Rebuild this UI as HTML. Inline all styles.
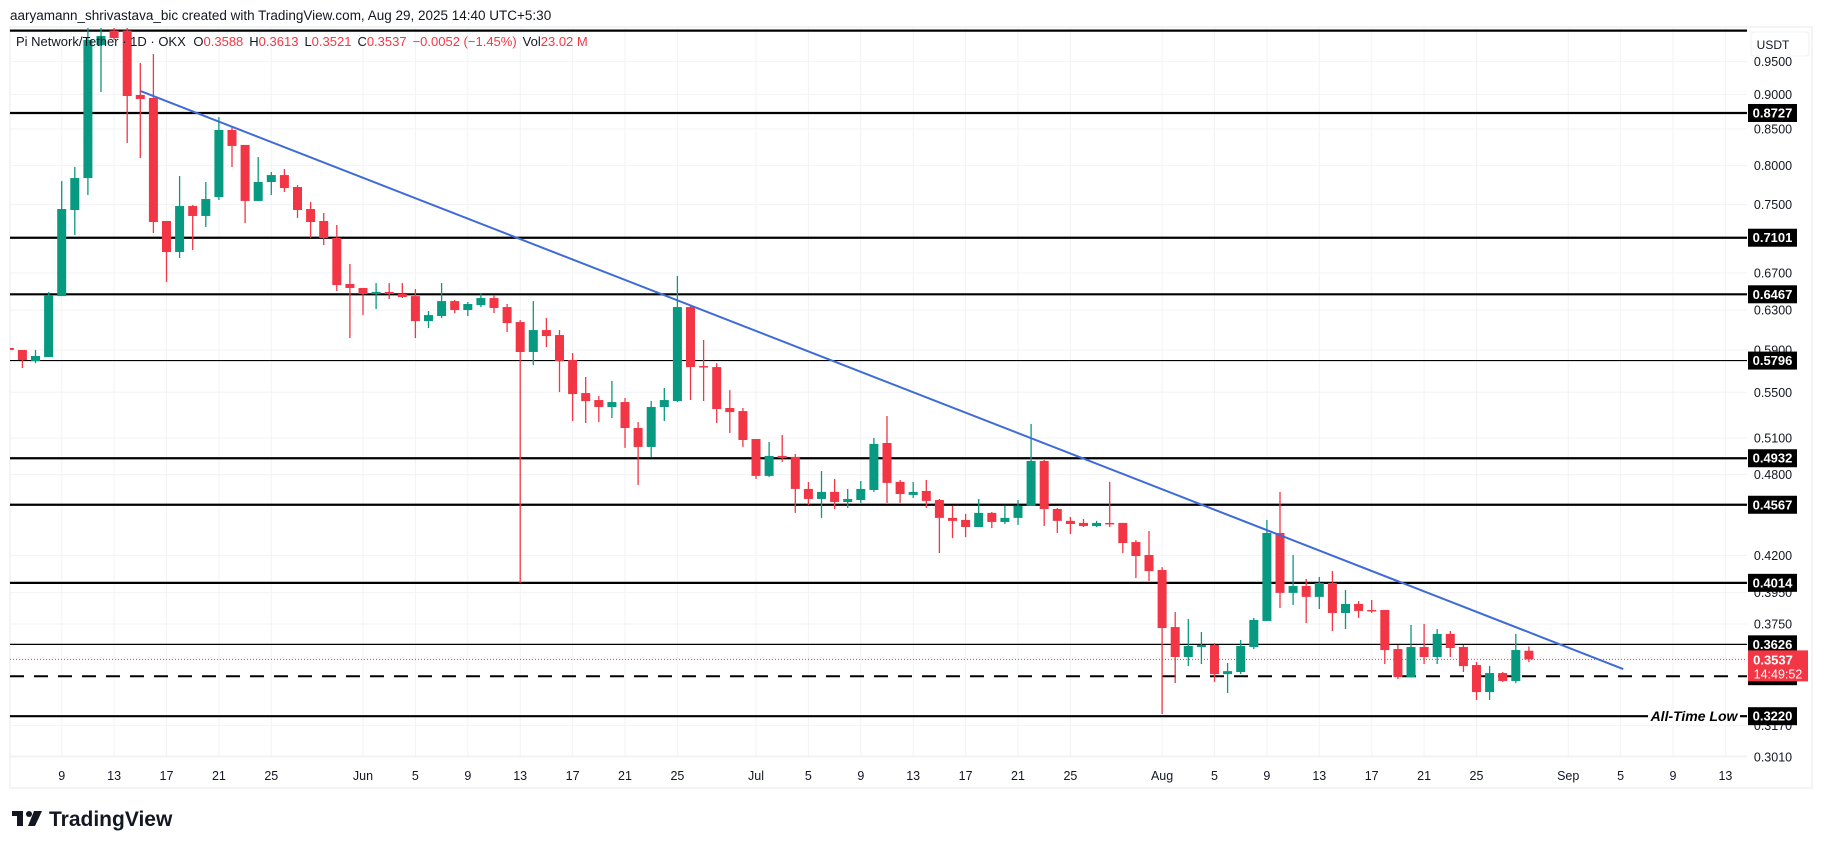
<!DOCTYPE html>
<html><head><meta charset="utf-8"><style>
html,body{margin:0;padding:0;background:#fff;}
svg{display:block;font-family:"Liberation Sans",sans-serif;}
</style></head><body>
<svg id="chart" width="1825" height="849" viewBox="0 0 1825 849" xmlns="http://www.w3.org/2000/svg">
<rect x="0" y="0" width="1825" height="849" fill="#fff"/>
<text x="10" y="20" font-size="13.5" fill="#131722">aaryamann_shrivastava_bic created with TradingView.com, Aug 29, 2025 14:40 UTC+5:30</text>
<rect x="10" y="27" width="1802" height="761" fill="none" stroke="#eef0f3" stroke-width="1.5"/>
<line x1="10" y1="756" x2="1747" y2="756" stroke="#eef0f3"/>
<defs><clipPath id="pane"><rect x="10" y="28" width="1737" height="728"/></clipPath></defs>
<g id="grid"></g>
<g id="levels" clip-path="url(#pane)"></g>
<g id="candles" clip-path="url(#pane)"></g>
<g id="trend" clip-path="url(#pane)"></g>
<g id="axis"></g>
<g id="legend-group">
<text x="16" y="46" font-size="13" fill="#131722">Pi Network/Tether · 1D · OKX <tspan dx="4">O</tspan><tspan fill="#f23645">0.3588</tspan><tspan dx="6">H</tspan><tspan fill="#f23645">0.3613</tspan><tspan dx="6">L</tspan><tspan fill="#f23645">0.3521</tspan><tspan dx="6">C</tspan><tspan fill="#f23645">0.3537</tspan><tspan dx="6" fill="#f23645">−0.0052 (−1.45%)</tspan><tspan dx="6">Vol</tspan><tspan fill="#f23645">23.02 M</tspan></text>
</g>
<g>
<rect x="12" y="811" width="11" height="5" fill="#131722"/>
<rect x="17" y="811" width="6" height="15" fill="#131722"/>
<circle cx="29" cy="814" r="3" fill="#131722"/>
<polygon points="34,811 42,811 35,826 28,826" fill="#131722"/>
<text x="49" y="826" font-size="21" font-weight="bold" fill="#131722">TradingView</text>
</g>
</svg>
<script>
const NS = "http://www.w3.org/2000/svg";
const startDay = -27; // May 5 relative to Jun 1
const opens = [0.5918,0.5898,0.5791,0.5830,0.6448,0.7434,0.7837,0.9765,1.000,1.000,0.8990,0.8946,0.7300,0.6935,0.7483,0.7361,0.7595,0.8485,0.8278,0.7546,0.7786,0.7876,0.7722,0.7446,0.7300,0.7098,0.6578,
0.6535,0.6470,0.6492,0.6470,0.6448,0.6187,0.6239,0.6395,0.6301,0.6353,0.6427,0.6332,0.6177,0.5879,0.6096,0.6046,0.5801,0.5493,0.5430,0.5368,0.5412,0.5185,0.5025,0.5368,0.5421,0.6332,0.5744,0.5734,0.5359,0.5332,
0.5091,0.4790,0.4951,0.4943,0.4688,0.4611,0.4665,0.4588,0.4603,0.4680,0.5058,0.4743,0.4642,0.4672,0.4603,0.4469,0.4454,0.4402,0.4506,0.4439,0.4469,0.4558,0.4910,0.4535,0.4447,0.4432,0.4409,0.4432,0.4432,0.4294,0.4203,
0.4100,0.3731,0.3551,0.3610,0.3622,0.3452,0.3464,0.3610,0.3769,0.4359,0.3948,0.3993,0.3922,0.4013,0.3819,0.3876,0.3838,0.3838,0.3598,0.3435,0.3610,0.3551,0.3689,0.3610,0.3504,0.3351,0.3458,0.3413,0.3588];
const highs = [0.5927,0.5898,0.5898,0.6492,0.7798,0.7982,1.009,1.009,1.009,1.009,0.9479,0.9621,0.7300,0.7863,0.7495,0.7786,0.8669,0.8527,0.8278,0.8114,0.7916,0.7955,0.7747,0.7533,0.7397,0.7252,0.6799,
0.6535,0.6588,0.6588,0.6588,0.6524,0.6291,0.6588,0.6406,0.6385,0.6481,0.6459,0.6364,0.6197,0.6395,0.6218,0.6096,0.5869,0.5641,0.5466,0.5604,0.5448,0.5236,0.5421,0.5539,0.6665,0.6343,0.5996,0.5772,0.5520,0.5359,
0.5091,0.5066,0.5125,0.4967,0.4742,0.4829,0.4766,0.4688,0.4750,0.5100,0.5289,0.4758,0.4742,0.4758,0.4611,0.4558,0.4499,0.4611,0.4513,0.4558,0.4603,0.5219,0.4918,0.4543,0.4476,0.4461,0.4447,0.4743,0.4432,0.4308,0.4373,
0.4120,0.3825,0.3781,0.3701,0.3634,0.3516,0.3652,0.3788,0.4454,0.4665,0.4203,0.4040,0.4053,0.4093,0.3967,0.3895,0.3902,0.3838,0.3622,0.3744,0.3750,0.3719,0.3707,0.3622,0.3522,0.3498,0.3464,0.3689,0.3613];
const lows = [0.5898,0.5725,0.5772,0.5830,0.6448,0.7133,0.7621,0.9035,0.9846,0.8305,0.8101,0.7157,0.6599,0.6867,0.6958,0.7228,0.7558,0.7982,0.7276,0.7546,0.7621,0.7659,0.7336,0.7098,0.7016,0.6502,0.6016,
0.6249,0.6311,0.6417,0.6427,0.6016,0.6116,0.6218,0.6270,0.6239,0.6332,0.6270,0.6076,0.4013,0.5753,0.5927,0.5502,0.5245,0.5228,0.5236,0.5271,0.5017,0.4719,0.4943,0.5245,0.5412,0.5430,0.5421,0.5228,0.5142,0.5025,
0.4766,0.4782,0.4902,0.4506,0.4565,0.4469,0.4535,0.4543,0.4581,0.4665,0.4581,0.4581,0.4619,0.4543,0.4217,0.4322,0.4329,0.4402,0.4394,0.4424,0.4417,0.4558,0.4409,0.4359,0.4351,0.4402,0.4402,0.4402,0.4217,0.4046,0.4026,
0.3232,0.3401,0.3498,0.3510,0.3407,0.3346,0.3452,0.3598,0.3769,0.3851,0.3870,0.3756,0.3844,0.3707,0.3719,0.3788,0.3819,0.3510,0.3424,0.3435,0.3510,0.3510,0.3551,0.3464,0.3307,0.3307,0.3407,0.3401,0.3521];
const closes = [0.5898,0.5801,0.5840,0.6459,0.7446,0.7837,0.9846,0.9911,0.9878,0.8975,0.8931,0.7288,0.6935,0.7483,0.7361,0.7570,0.8485,0.8264,0.7546,0.7786,0.7876,0.7709,0.7434,0.7288,0.7098,0.6567,0.6535,
0.6470,0.6492,0.6470,0.6438,0.6187,0.6249,0.6395,0.6301,0.6364,0.6427,0.6322,0.6167,0.5879,0.6096,0.6036,0.5791,0.5484,0.5421,0.5368,0.5412,0.5185,0.5025,0.5368,0.5430,0.6332,0.5734,0.5734,0.5350,0.5323,0.5083,
0.4790,0.4951,0.4934,0.4688,0.4611,0.4665,0.4588,0.4611,0.4688,0.5050,0.4735,0.4649,0.4665,0.4596,0.4469,0.4447,0.4402,0.4506,0.4439,0.4469,0.4558,0.4910,0.4535,0.4447,0.4424,0.4409,0.4432,0.4424,0.4287,0.4196,0.4093,
0.3725,0.3551,0.3616,0.3622,0.3452,0.3469,0.3616,0.3775,0.4359,0.3948,0.3993,0.3922,0.4013,0.3819,0.3876,0.3832,0.3832,0.3592,0.3435,0.3610,0.3551,0.3689,0.3604,0.3498,0.3351,0.3458,0.3413,0.3592,0.3537];

const priceTicks = [0.9500,0.9000,0.8500,0.8000,0.7500,0.6700,0.6300,0.5900,0.5500,0.5100,0.4800,0.4200,0.3950,0.3750,0.3170,0.3010];
const priceTickLabels = ["0.9500","0.9000","0.8500","0.8000","0.7500","0.6700","0.6300","0.5900","0.5500","0.5100","0.4800","0.4200","0.3950","0.3750","0.3170","0.3010"];
const dateTickDays = [-23,-19,-15,-11,-7,0,4,8,12,16,20,24,30,34,38,42,46,50,54,61,65,69,73,77,81,85,92,96,100,104];
const dateTickLabels = ["9","13","17","21","25","Jun","5","9","13","17","21","25","Jul","5","9","13","17","21","25","Aug","5","9","13","17","21","25","Sep","5","9","13"];
const levelPrices = [1.000,0.8727,0.7101,0.6467,0.5796,0.4932,0.4567,0.4014,0.3626,0.3440,0.3220];
const levelLabels = ["","0.8727","0.7101","0.6467","0.5796","0.4932","0.4567","0.4014","0.3626","0.3440","0.3220"];
const levelStyles = ["thick","thick","thick","thick","thin","thick","thick","thick","thin","dashed","thick"];
const trendDays = [-17, 96.2];
const trendPrices = [0.9050, 0.3481];
const lastPrice = 0.3537;

function yOf(p){ return 30.6 - 605*Math.log(p); }
function xOf(d){ return 363 + 13.1*d; }
function mk(tag, attrs, parent){ const e=document.createElementNS(NS,tag); for(const k in attrs) e.setAttribute(k, attrs[k]); parent.appendChild(e); return e; }

const grid=document.getElementById('grid'), axis=document.getElementById('axis'), lv=document.getElementById('levels'), cg=document.getElementById('candles'), tg=document.getElementById('trend');

priceTicks.forEach((p,i)=>{
  const y=yOf(p);
  const gl=mk('line',{x1:10,x2:1747,y1:y,y2:y,stroke:'#f2f3f5','stroke-width':1},grid);
  
  
  const t=mk('text',{x:1773,y:y+4.5,'font-size':12.5,fill:'#131722','text-anchor':'middle'},axis);
  t.textContent=priceTickLabels[i];
  
  
});
dateTickDays.forEach((d,i)=>{
  const x=xOf(d);
  const gl=mk('line',{x1:x,x2:x,y1:28,y2:756,stroke:'#f2f3f5','stroke-width':1},grid);
  
  
  const t=mk('text',{x:x,y:780,'font-size':12.5,fill:'#131722','text-anchor':'middle'},axis);
  t.textContent=dateTickLabels[i];
  
  
});

// USDT box
const ub=mk('rect',{x:1751,y:32,width:58,height:24,rx:3,fill:'#fff',stroke:'#eef0f3'},axis);


const ut=mk('text',{x:1773,y:49,'font-size':12,fill:'#131722','text-anchor':'middle'},axis);
ut.textContent='USDT';



levelPrices.forEach((p,i)=>{
  const y=yOf(p), st=levelStyles[i];
  const x2 = (i===levelPrices.length-1) ? 1648 : 1747;
  const a={x1:10,x2:x2,y1:y,y2:y,stroke:'#000','stroke-width':st==='thin'?1.2:2.2};
  if(st==='dashed'){a['stroke-dasharray']='14 10'; a['stroke-width']=2;}
  const l=mk('line',a,lv);
  
  
  if(levelLabels[i]){
    const r=mk('rect',{x:1748,y:y-9,width:49,height:18,fill:'#000'},axis);
    
    
    const t=mk('text',{x:1772.5,y:y+4.5,'font-size':13,'font-weight':'bold',fill:'#fff','text-anchor':'middle'},axis);
    t.textContent=levelLabels[i];
    
    
  }
});
// all-time-low label
const atl=mk('text',{x:1694,y:yOf(0.3220)+5,'font-size':14,'font-weight':'bold','font-style':'italic',fill:'#000','text-anchor':'middle'},axis);
atl.textContent='All-Time Low';


mk('line',{x1:1740,x2:1747,y1:yOf(0.3220),y2:yOf(0.3220),stroke:'#000','stroke-width':2.2},lv);

// current price line
const ly=yOf(lastPrice);
const cp=mk('line',{x1:10,x2:1747,y1:ly,y2:ly,stroke:'#f23645','stroke-width':1,'stroke-dasharray':'1 2'},lv);



opens.forEach((o,i)=>{
  const d=startDay+i, x=xOf(d), c=closes[i];
  const col = c>=o ? '#089981' : '#f23645';
  const g=mk('g',{},cg);
  
  
  mk('line',{x1:x,x2:x,y1:yOf(highs[i]),y2:yOf(lows[i]),stroke:col,'stroke-width':1.3},g);
  const top=Math.min(yOf(o),yOf(c)), h=Math.max(1.5,Math.abs(yOf(o)-yOf(c)));
  mk('rect',{x:x-4.5,y:top,width:9,height:h,fill:col},g);
});

const tl=mk('line',{x1:xOf(trendDays[0]),y1:yOf(trendPrices[0]),x2:xOf(trendDays[1]),y2:yOf(trendPrices[1]),stroke:'#3f6bd8','stroke-width':2},tg);



// last price badge
const lb=mk('rect',{x:1748,y:ly-9,width:60,height:31,fill:'#f23645'},axis);


const lt=mk('text',{x:1773,y:ly+5,'font-size':13,'font-weight':'bold',fill:'#fff','text-anchor':'middle'},axis);
lt.textContent=lastPrice.toFixed(4);


const ct=mk('text',{x:1778,y:ly+19,'font-size':12.5,fill:'#fff','text-anchor':'middle'},axis);
ct.textContent='14:49:52';


</script>
</body></html>
